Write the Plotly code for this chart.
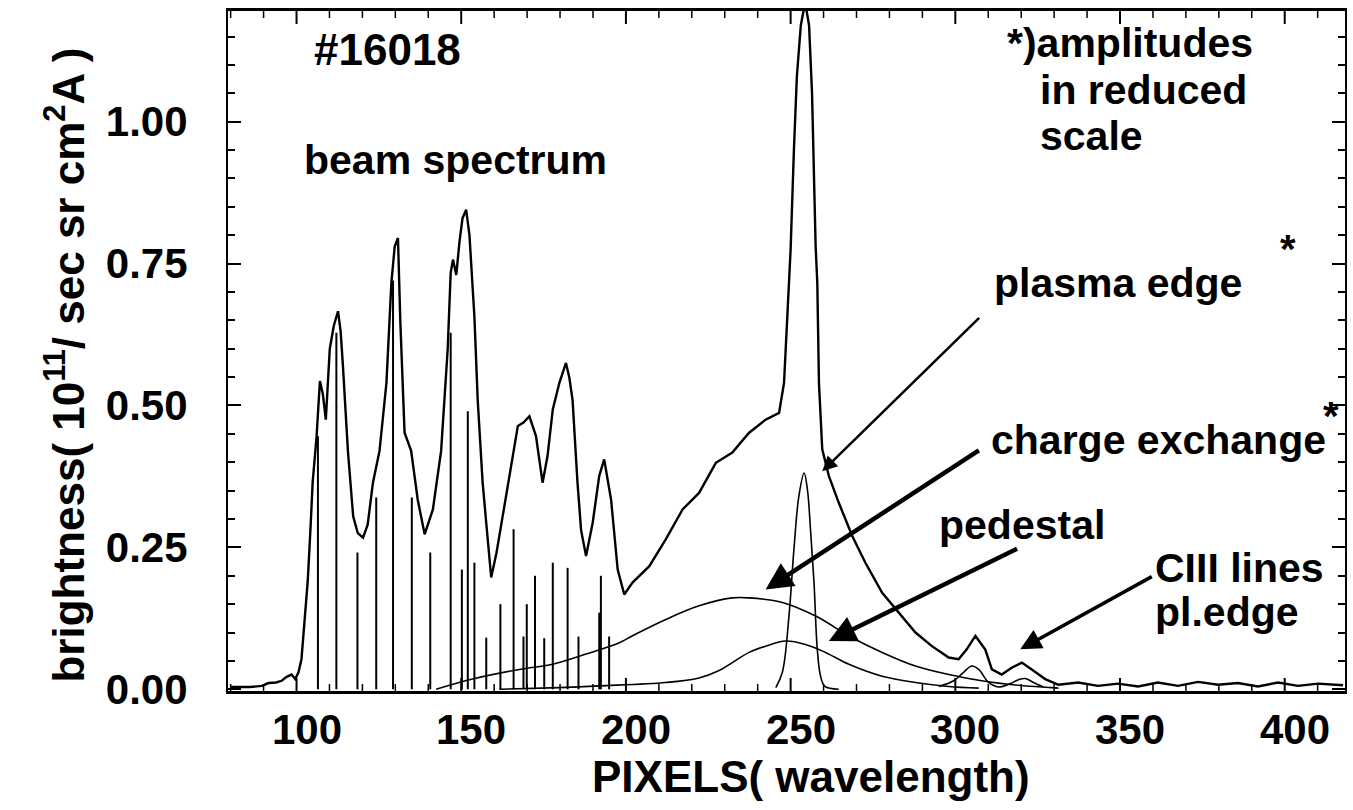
import plotly.graph_objects as go

# ---- measured spectrum (pixel index, brightness) ----
spec_x = [79.8, 85.8, 89.5, 91.5, 93.8, 95.5, 97.0, 98.5, 99.6, 100.6,
          101.5, 102.5, 103.4, 104.3, 104.9, 106.1, 107.1, 108.0, 108.9, 110.1,
          111.3, 112.6, 113.4, 114.1, 115.6, 117.2, 118.6, 120.2, 121.6, 123.2,
          125.2, 127.3, 128.8, 129.8, 130.8, 131.5, 132.8, 134.8, 136.8, 138.9,
          141.4, 143.9, 145.9, 146.8, 147.5, 148.5, 149.5, 150.4, 151.5, 152.5,
          154.0, 155.0, 156.5, 157.6, 159.1, 160.7, 162.6, 165.2, 167.2, 168.9,
          170.7, 172.7, 173.7, 174.7, 176.2, 177.8, 179.8, 181.8, 182.8, 183.8,
          185.3, 186.4, 187.9, 189.9, 191.9, 193.4, 195.5, 197.5, 199.5, 202.0,
          207.1, 212.1, 217.2, 222.2, 227.3, 232.3, 237.4, 242.4, 246.5, 248.0,
          249.0, 250.0, 251.0, 251.9, 253.1, 254.4, 255.6, 256.5, 257.6, 258.1,
          258.6, 259.6, 261.6, 264.6, 268.7, 272.7, 277.8, 282.8, 287.9, 292.9,
          298.0, 301.0, 303.4, 306.1, 309.1, 311.1, 314.1, 317.1, 320.2, 323.2,
          327.3, 331.3, 337.3, 343.3, 349.4, 355.5, 361.5, 367.6, 373.7, 379.8,
          385.8, 391.9, 398.0, 404.0, 410.1, 417.7]
spec_y = [0.004, 0.004, 0.006, 0.011, 0.012, 0.015, 0.022, 0.026, 0.018, 0.030,
          0.053, 0.120, 0.190, 0.290, 0.365, 0.446, 0.543, 0.520, 0.475, 0.600,
          0.640, 0.666, 0.630, 0.569, 0.420, 0.305, 0.275, 0.267, 0.290, 0.364,
          0.420, 0.540, 0.716, 0.780, 0.795, 0.650, 0.452, 0.420, 0.334, 0.273,
          0.317, 0.420, 0.600, 0.734, 0.757, 0.730, 0.790, 0.830, 0.845, 0.800,
          0.657, 0.510, 0.364, 0.293, 0.197, 0.240, 0.305, 0.393, 0.464, 0.470,
          0.481, 0.446, 0.400, 0.364, 0.411, 0.493, 0.540, 0.575, 0.550, 0.510,
          0.364, 0.280, 0.235, 0.293, 0.376, 0.405, 0.334, 0.211, 0.167, 0.188,
          0.217, 0.264, 0.317, 0.346, 0.399, 0.417, 0.452, 0.475, 0.487, 0.540,
          0.657, 0.775, 0.950, 1.080, 1.170, 1.210, 1.170, 1.050, 0.780, 0.716,
          0.540, 0.423, 0.376, 0.329, 0.270, 0.223, 0.170, 0.135, 0.100, 0.076,
          0.056, 0.053, 0.070, 0.094, 0.070, 0.035, 0.026, 0.038, 0.047, 0.035,
          0.018, 0.008, 0.012, 0.006, 0.010, 0.005, 0.012, 0.006, 0.013, 0.008,
          0.011, 0.005, 0.012, 0.006, 0.010, 0.007]

# ---- fitted components ----
cx_x = [142.4, 153.4, 167.7, 177.7, 187.9, 198.0, 201.9, 212.1, 222.2, 232.3,
        237.4, 247.5, 257.6, 267.7, 277.8, 287.9, 298.0, 308.0, 319.2, 331.3]
cx_y = [0.000, 0.018, 0.035, 0.044, 0.062, 0.082, 0.094, 0.123, 0.147, 0.161,
        0.161, 0.153, 0.129, 0.094, 0.065, 0.041, 0.026, 0.015, 0.007, 0.002]

ped_x = [161.6, 179.8, 191.9, 212.1, 222.2, 228.3, 232.3, 237.4, 242.4, 248.5,
         254.5, 260.6, 267.7, 277.8, 287.9, 298.0, 307.1]
ped_y = [0.000, 0.003, 0.006, 0.012, 0.020, 0.033, 0.047, 0.065, 0.076, 0.085,
         0.079, 0.065, 0.044, 0.023, 0.012, 0.005, 0.002]

edge_x = [245.5, 247.5, 249.5, 251.0, 252.5, 254.1, 255.1, 256.1, 257.1, 258.1,
          259.1, 260.4, 264.6]
edge_y = [0.003, 0.030, 0.129, 0.246, 0.340, 0.381, 0.352, 0.276, 0.188, 0.070,
          0.023, 0.005, 0.000]

ciii_x = [295.0, 299.5, 302.5, 305.0, 307.1, 310.1, 313.1, 316.7, 319.2, 321.3,
          323.7, 326.8]
ciii_y = [0.005, 0.015, 0.030, 0.041, 0.035, 0.012, 0.004, 0.010, 0.017, 0.019,
          0.012, 0.004]

# ---- beam line positions and amplitudes ----
stick_x = [106.5, 112.1, 118.5, 124.2, 129.3, 135.0, 140.6, 146.8, 150.2, 152.0,
           154.0, 157.6, 161.9, 165.9, 168.9, 169.9, 172.4, 175.2, 177.8, 182.3,
           185.6, 191.9, 192.4, 194.9]
stick_h = [0.446, 0.628, 0.241, 0.338, 0.720, 0.338, 0.241, 0.628, 0.211, 0.490,
           0.223, 0.091, 0.150, 0.282, 0.093, 0.150, 0.200, 0.090, 0.223, 0.214,
           0.093, 0.135, 0.200, 0.093]

x_ticks = [100, 150, 200, 250, 300, 350, 400]
y_ticks = [0.0, 0.25, 0.5, 0.75, 1.0]
x_minor = list(range(80, 420, 10))
y_minor = [round(0.05 * i, 2) for i in range(0, 24)]

X_RANGE = [79.2, 418.3]
Y_RANGE = [-0.003, 1.195]
PLOT_H = 680  # plot area height in px

FONT = "Liberation Sans, Arial, Helvetica, sans-serif"
INK = "black"

fig = go.Figure()

# beam lines as vertical sticks
sx, sy = [], []
for xv, hv in zip(stick_x, stick_h):
    sx += [xv, xv, None]
    sy += [0, hv, None]
fig.add_trace(go.Scatter(x=sx, y=sy, mode="lines",
                         line=dict(color=INK, width=2), hoverinfo="skip"))

for xs, ys in [(cx_x, cx_y), (ped_x, ped_y), (edge_x, edge_y), (ciii_x, ciii_y)]:
    fig.add_trace(go.Scatter(x=xs, y=ys, mode="lines", line_shape="spline",
                             line=dict(color=INK, width=1.6), hoverinfo="skip"))

fig.add_trace(go.Scatter(x=spec_x, y=spec_y, mode="lines",
                         line=dict(color=INK, width=2.4), hoverinfo="skip"))

# inward x ticks on bottom and top frame (long at labelled values)
for tv in x_minor:
    tlen = (13 if tv in x_ticks else 7) / PLOT_H
    for base, sgn in [(0.0, 1), (1.0, -1)]:
        fig.add_shape(type="line", xref="x", yref="paper", x0=tv, x1=tv,
                      y0=base, y1=base + sgn * tlen,
                      line=dict(color=INK, width=2 if tv in x_ticks else 1.5))

def label(text, x, y, size=41, xanchor="left", xref="x", yref="y", angle=0,
          xshift=0):
    fig.add_annotation(text=text, x=x, y=y, xref=xref, yref=yref,
                       xanchor=xanchor, yanchor="middle", showarrow=False,
                       textangle=angle, xshift=xshift,
                       font=dict(family=FONT, size=size, color=INK, weight="bold"))

def arrow(x0, y0, x1, y1, width):
    fig.add_annotation(text="", x=x1, y=y1, ax=x0, ay=y0, xref="x", yref="y",
                       axref="x", ayref="y", showarrow=True, arrowhead=2,
                       arrowsize=1.2, arrowwidth=width, arrowcolor=INK, standoff=0)

label("#16018", 104.6, 1.128, size=44)
label("beam spectrum", 101.6, 0.933)
label("*)amplitudes", 315.2, 1.139)
label("in reduced", 325.2, 1.056)
label("scale", 325.2, 0.974)
label("plasma edge", 311.0, 0.716)
label("*", 398.0, 0.776, size=40)
label("charge exchange", 310.1, 0.440)
label("*", 411.0, 0.482, size=40)
label("pedestal", 294.3, 0.290)
label("CIII lines", 360.1, 0.214)
label("pl.edge", 360.1, 0.137)

arrow(307.7, 0.657, 259.6, 0.384, 2.5)
arrow(307.6, 0.4225, 242.4, 0.176, 4.5)
arrow(319.2, 0.249, 261.6, 0.085, 4.5)
arrow(360.1, 0.200, 319.7, 0.0704, 3.5)

# x tick labels (set slightly right of their ticks)
for tv in x_ticks:
    label(str(tv), tv, -0.057, size=42, xanchor="center", yref="paper",
          xshift=10)

# axis titles
label("PIXELS( wavelength)", 0.522, -0.126, size=44, xanchor="center",
      xref="paper", yref="paper")
label("brightness( 10<sup>11</sup>/ sec sr cm<sup>2</sup>A )", -0.146, 0.48,
      size=44, xanchor="center", xref="paper", yref="paper", angle=-90)

tick_font = dict(family=FONT, size=42, color=INK, weight="bold")

fig.update_layout(
    width=1353, height=810, autosize=False, showlegend=False,
    paper_bgcolor="white", plot_bgcolor="white",
    margin=dict(l=228, r=6, t=11, b=119),
    xaxis=dict(range=X_RANGE, tickmode="array", tickvals=x_ticks,
               showticklabels=False, ticks="", showline=True, linewidth=3,
               linecolor=INK, mirror=True, showgrid=False, zeroline=False),
    yaxis=dict(range=Y_RANGE, tickmode="array", tickvals=y_minor,
               ticktext=[f"{v:.2f}" if v in y_ticks else "" for v in y_minor],
               ticks="inside", ticklen=7, tickwidth=1.5,
               tickcolor=INK, showline=True, linewidth=2, linecolor=INK,
               mirror="ticks", showgrid=False, zeroline=False,
               tickfont=tick_font, ticklabelstandoff=30),
    yaxis2=dict(range=Y_RANGE, overlaying="y", anchor="x", side="left",
                tickmode="array", tickvals=y_ticks, showticklabels=False,
                ticks="inside", ticklen=13, tickwidth=2, tickcolor=INK,
                showline=True, linewidth=2, linecolor=INK, mirror="ticks",
                showgrid=False, zeroline=False),
    xaxis2=dict(range=X_RANGE, overlaying="x", anchor="y", side="bottom",
                showticklabels=False, ticks="", showline=False,
                showgrid=False, zeroline=False),
)

# empty trace that carries the secondary axes
fig.add_trace(go.Scatter(x=[None], y=[None], xaxis="x2", yaxis="y2",
                         mode="lines", hoverinfo="skip"))

fig.write_html("out.html")
